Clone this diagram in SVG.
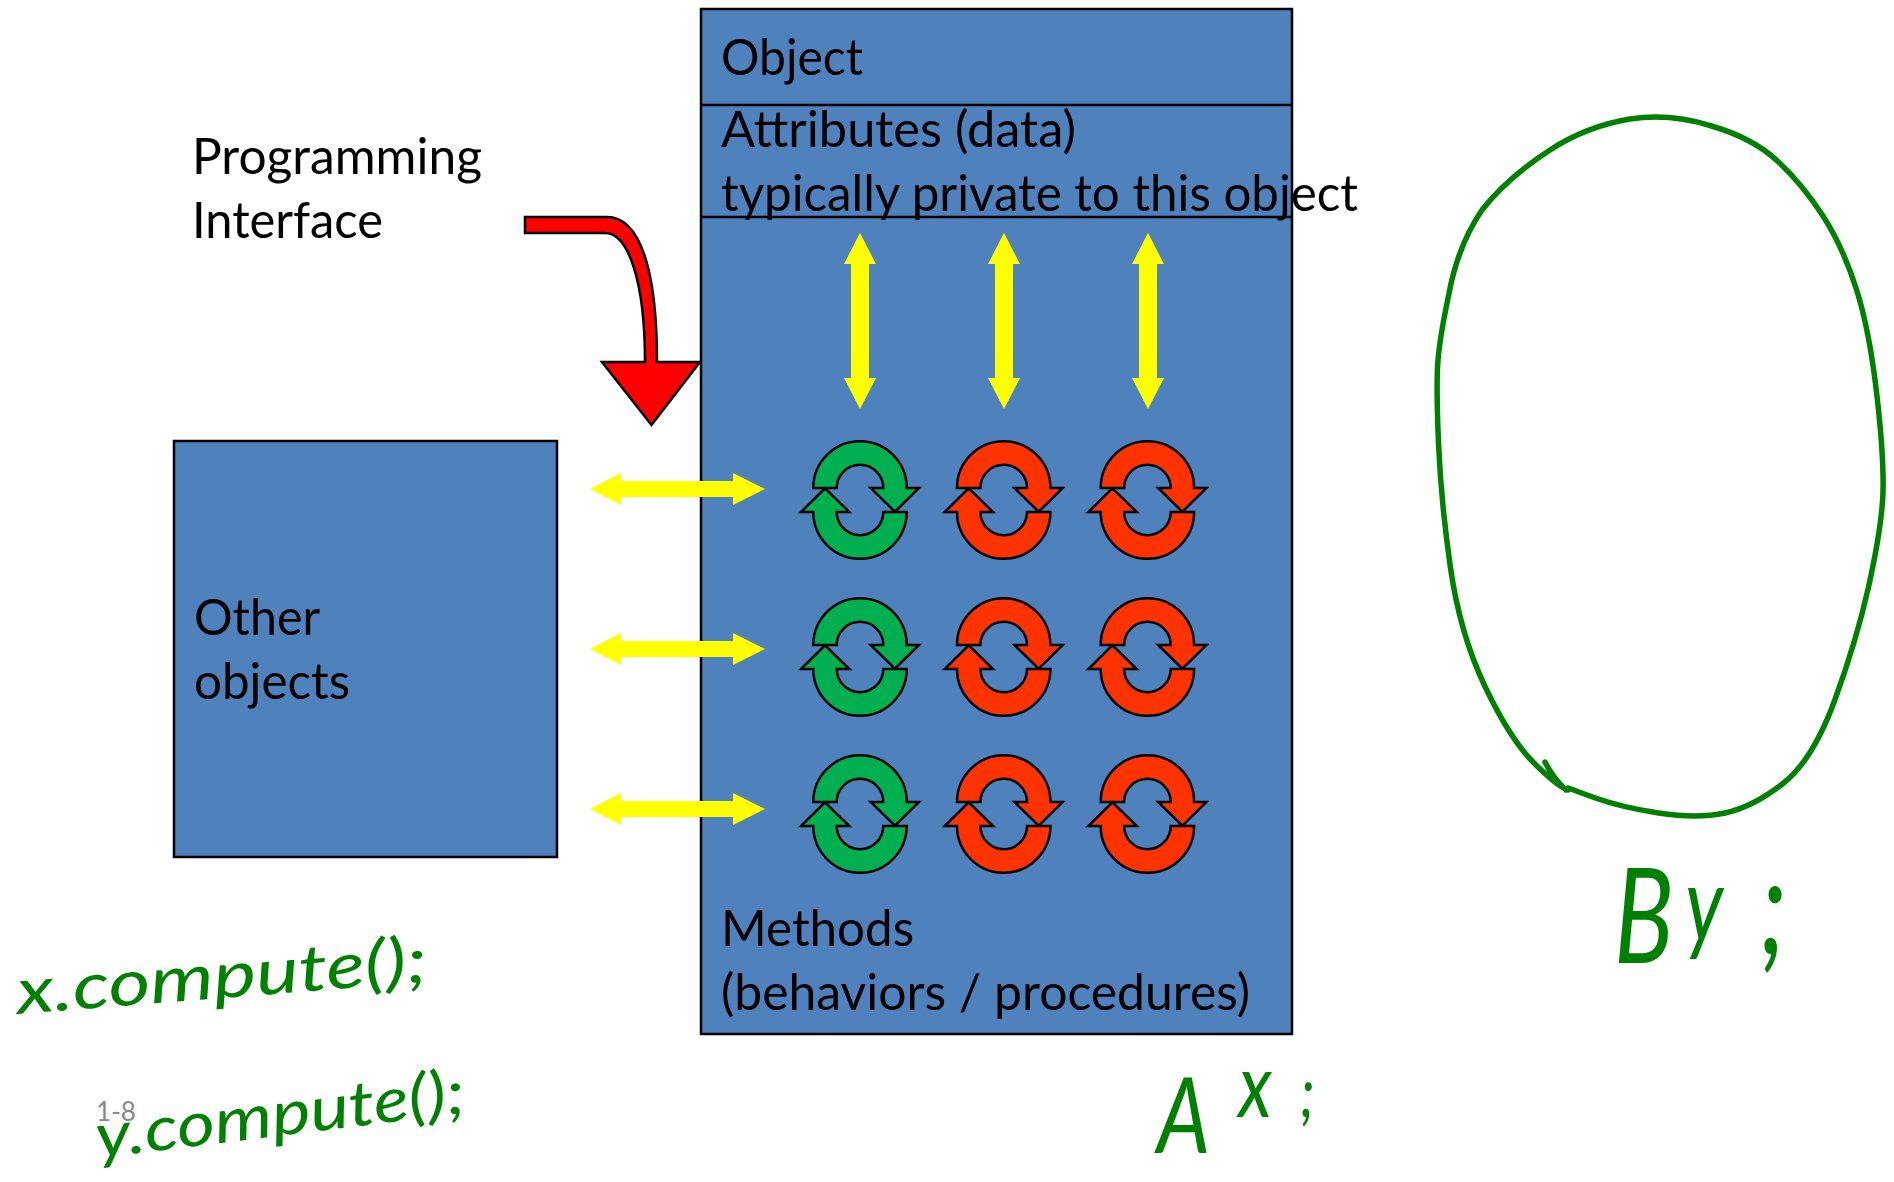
<svg xmlns="http://www.w3.org/2000/svg" xmlns:xlink="http://www.w3.org/1999/xlink" width="1894" height="1182" viewBox="0 0 1894 1182">
<style>
.box{fill:#4F81BD;stroke:#000;stroke-width:2.5}
.t{font-family:"Lato","Carlito","Open Sans",sans-serif;font-size:49.5px;fill:#000}
.y{fill:#FFFF00}
.g{fill:#00B050;stroke:#000;stroke-width:2.5;stroke-linejoin:miter}
.r{fill:#FF3300;stroke:#000;stroke-width:2.5;stroke-linejoin:miter}
.hw{font-family:"Lato","Open Sans",sans-serif;font-style:italic;fill:#008000}
.ink{fill:none;stroke:#008000;stroke-width:5.5;stroke-linecap:round;stroke-linejoin:round}
</style>
<defs>
<g id="cycle">
<path d="M-46.7,-12 A46.7,46.7 0 0 1 46.7,-12 L59,-12 L35,11.7 L10.7,-12 L23.3,-12 A23.3,23.3 0 0 0 -23.3,-12 Z"/>
<path d="M46.7,12 A46.7,46.7 0 0 1 -46.7,12 L-59,12 L-35,-11.7 L-10.7,12 L-23.3,12 A23.3,23.3 0 0 0 23.3,12 Z"/>
</g>
<polygon id="h-arrow" class="y" points="590,0 621,-16 621,-8 733,-8 733,-16 765,0 733,16 733,8 621,8 621,16"/>
<polygon id="v-arrow" class="y" points="0,233 16,264 9,264 9,378 16,378 0,409 -16,378 -9,378 -9,264 -16,264"/>
</defs>
<rect width="1894" height="1182" fill="#fff"/>
<g id="object">
<rect class="box" x="701" y="9" width="591" height="1025"/>
<path d="M701,105H1292M701,217H1292" stroke="#000" stroke-width="2.5" fill="none"/>
<text class="t" x="721" y="75" textLength="142" lengthAdjust="spacingAndGlyphs">Object</text>
<text class="t" x="721" y="147" textLength="355" lengthAdjust="spacingAndGlyphs">Attributes (data)</text>
<text class="t" x="721" y="211" textLength="637" lengthAdjust="spacingAndGlyphs">typically private to this object</text>
<text class="t" x="721" y="946" textLength="193" lengthAdjust="spacingAndGlyphs">Methods</text>
<text class="t" x="721" y="1010" textLength="529" lengthAdjust="spacingAndGlyphs">(behaviors / procedures)</text>
</g>
<g id="other-objects">
<rect class="box" x="174" y="441" width="383" height="416"/>
<text class="t" x="194" y="635" textLength="126" lengthAdjust="spacingAndGlyphs">Other</text>
<text class="t" x="194" y="699" textLength="156" lengthAdjust="spacingAndGlyphs">objects</text>
</g>
<g id="programming-interface">
<text class="t" x="192" y="174" textLength="290" lengthAdjust="spacingAndGlyphs">Programming</text>
<text class="t" x="192" y="238" textLength="191" lengthAdjust="spacingAndGlyphs">Interface</text>
</g>
<g id="methods">
<use href="#cycle" class="g" x="860" y="500"/>
<use href="#cycle" class="r" x="1003.7" y="500"/>
<use href="#cycle" class="r" x="1147.4" y="500"/>
<use href="#cycle" class="g" x="860" y="657"/>
<use href="#cycle" class="r" x="1003.7" y="657"/>
<use href="#cycle" class="r" x="1147.4" y="657"/>
<use href="#cycle" class="g" x="860" y="814"/>
<use href="#cycle" class="r" x="1003.7" y="814"/>
<use href="#cycle" class="r" x="1147.4" y="814"/>
</g>
<g id="connectors">
<path d="M525,217 L607,217 C640,217 657,270 657,362 L700,362 L651.5,425 L602,362 L645,362 C645,280 628,233 605,233 L525,233 Z" fill="#FF0000" stroke="#000" stroke-width="2.5"/>
<use href="#h-arrow" y="489"/>
<use href="#h-arrow" y="649"/>
<use href="#h-arrow" y="809"/>
<use href="#v-arrow" x="860"/>
<use href="#v-arrow" x="1004"/>
<use href="#v-arrow" x="1148"/>
</g>
<g id="annotations">
<path class="ink" d="M1568,788 L1594,797.5 Q1620,807 1658.5,813 Q1697,819 1725,813 Q1753,807 1783,783.5 Q1813,760 1835,699.5 Q1857,639 1868.5,587 Q1880,535 1882.5,502 Q1885,469 1877.5,400.5 Q1870,332 1856.5,289.5 Q1843,247 1823,216 Q1803,185 1778,161.5 Q1753,138 1711.5,126 Q1670,113 1630,119 Q1587,126 1550,150 Q1507,178 1482,210 Q1458,245 1449,293.5 Q1440,336 1438,360 Q1436,384 1438.5,443 Q1441,502 1450.5,568 Q1460,634 1485,686.5 Q1510,739 1533.5,762.5 Q1557,786 1568,790 M1545,762 Q1553,778 1566,790"/>
<text x="96" y="1121" font-family="Lato,'Open Sans',sans-serif" font-size="27" fill="#898989" textLength="40" lengthAdjust="spacingAndGlyphs">1-8</text>
<text class="hw" transform="translate(18,1014) rotate(-4.5)" font-size="64" textLength="412" lengthAdjust="spacingAndGlyphs">x.compute();</text>
<text class="hw" transform="translate(98,1158) rotate(-7)" font-size="62" textLength="372" lengthAdjust="spacingAndGlyphs">y.compute();</text>
<text class="hw" transform="translate(1157,1153) scale(0.8,1)"><tspan font-size="105">A</tspan><tspan x="102" y="-36" font-size="90">x</tspan><tspan x="179" y="-36" font-size="70">;</tspan></text>
<text class="hw" transform="translate(1614,963) scale(0.75,1)"><tspan font-size="132">B</tspan><tspan x="95" y="-22" font-size="105">y</tspan><tspan x="195" y="-9" font-size="138">;</tspan></text>
</g>
</svg>
